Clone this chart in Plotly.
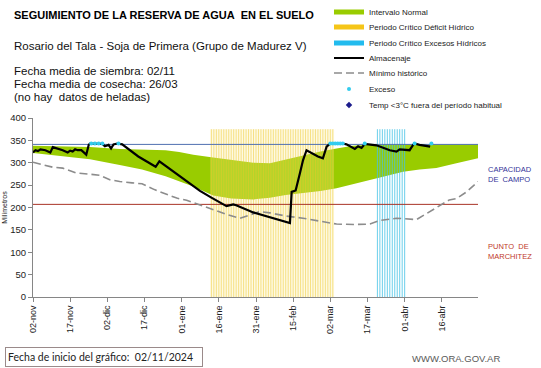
import plotly.graph_objects as go

# ---------------- data (x = days since 02-nov-2024) ----------------
tick_days = [0, 15, 30, 45, 60, 75, 90, 105, 120, 135, 150, 165]
tick_labels = ["02-nov", "17-nov", "02-dic", "17-dic", "01-ene", "16-ene",
               "31-ene", "15-feb", "02-mar", "17-mar", "01-abr", "16-abr"]

capacidad_campo = 341
punto_marchitez = 207

band_days = [0, 10, 23, 35, 44, 53.5, 59, 64.7, 72.7, 80, 88.9, 95.6, 102, 109, 116,
             122.5, 129, 136, 142, 149.4, 156, 162.8, 170, 179.6]
band_upper = [338, 337, 335, 331, 329, 328, 324, 318, 312, 306, 300, 299, 307, 317, 325,
              332, 338, 340, 341, 341, 341, 341, 341, 341]
band_lower = [322, 316, 308, 295, 285, 270, 258, 247, 227, 220, 218, 222, 228, 232, 237,
              243, 252, 261, 271, 280, 285, 288, 298, 310]

min_days = [0, 8, 12, 17.5, 22, 27, 31, 35, 40, 44, 49, 54, 58, 62, 67, 72.7, 78, 83.5,
            87.5, 91.6, 95.6, 102, 109, 116, 122.5, 130, 136, 140, 146.7, 154.8, 160,
            165.5, 168, 171, 175, 179.6]
min_hist = [301, 290, 288, 277, 275, 272, 262, 258, 255, 253, 240, 229, 221, 216, 206, 195,
            185, 176, 184, 191, 188, 181, 176, 169, 163, 162, 163, 171, 176, 173, 190,
            209, 217, 220, 235, 258]

alm_days = [0, 1, 2, 3, 5, 7, 8, 10, 12, 14, 15, 16, 17, 18, 19.5, 21.5, 22.5, 23, 28, 29,
            30.5, 31.5, 32.5, 34, 36, 42.5, 49.5, 51, 56.6, 62, 67.4, 72, 78.1, 80.8, 82,
            88.9, 95.6, 100, 103.7, 104.4, 106, 107.7, 109, 110.4, 115, 117, 118.5, 119.8,
            122, 125, 126.5, 127.9, 129.9, 131.2, 132.6, 133.9, 138.6, 144, 146.7, 148,
            152, 153.4, 154, 156, 160.3]
almacenaje = [323, 328, 326, 330, 328, 323, 335, 332, 328, 323, 327, 325, 330, 328, 328,
              318, 340, 343, 342, 337, 340, 332, 341, 343, 341, 314, 291, 303, 281, 259,
              237, 222, 203, 207, 205, 189, 178, 170, 165, 235, 238, 276, 306, 328, 314,
              310, 336, 342, 343, 343, 341, 337, 331, 337, 333, 342, 339, 328, 325, 330,
              328, 340, 343, 340, 336]

exceso_days = [23.5, 25, 26.5, 28, 34.5, 120, 121, 122, 123, 124, 125, 133.9, 154, 160.8]
exceso_vals = [343] * len(exceso_days)

deficit_days = list(range(72, 122))
excesos_days = list(range(139, 151))
periodo_top = 375

x_max = 179.6

# ---------------- helpers ----------------
W, H = 541, 368
L, R, T, B = 33, 63, 118, 71
PW, PH = W - L - R, H - T - B


def px(x):
    return (x - L) / PW


def py(y):
    return (H - B - y) / PH


FONT = "Arial, Liberation Sans, sans-serif"

fig = go.Figure()

# green band
fig.add_trace(go.Scatter(x=band_days, y=band_lower, mode="lines", line=dict(width=0),
                         showlegend=False, hoverinfo="skip"))
fig.add_trace(go.Scatter(x=band_days, y=band_upper, mode="lines", line=dict(width=0),
                         fill="tonexty", fillcolor="#99CC00", showlegend=False,
                         hoverinfo="skip"))

# deficit period background + stripes
d0, d1 = min(deficit_days) - 0.5, max(deficit_days) + 0.5
fig.add_trace(go.Scatter(x=[d0, d0, d1, d1, d0], y=[0, periodo_top, periodo_top, 0, 0],
                         mode="lines", line=dict(width=0), fill="toself",
                         fillcolor="rgba(250,236,150,0.28)", showlegend=False,
                         hoverinfo="skip"))
sx, sy = [], []
for d in deficit_days:
    sx += [d, d, None]
    sy += [0, periodo_top, None]
fig.add_trace(go.Scatter(x=sx, y=sy, mode="lines",
                         line=dict(color="rgba(240,200,40,0.5)", width=1),
                         showlegend=False, hoverinfo="skip"))
ex, ey = [], []
for d in excesos_days:
    ex += [d, d, None]
    ey += [0, periodo_top, None]
fig.add_trace(go.Scatter(x=ex, y=ey, mode="lines",
                         line=dict(color="rgba(70,195,230,0.8)", width=1),
                         showlegend=False, hoverinfo="skip"))

# reference lines
fig.add_trace(go.Scatter(x=[0, x_max], y=[capacidad_campo] * 2, mode="lines",
                         line=dict(color="#4F6FB0", width=1), showlegend=False))
fig.add_trace(go.Scatter(x=[0, x_max], y=[punto_marchitez] * 2, mode="lines",
                         line=dict(color="#A93226", width=1), showlegend=False))

# minimum historic
fig.add_trace(go.Scatter(x=min_days, y=min_hist, mode="lines", name="Mínimo histórico",
                         line=dict(color="#8C8C8C", width=1.6, dash="8px,4px"),
                         legend="legend5"))
# almacenaje
fig.add_trace(go.Scatter(x=alm_days, y=almacenaje, mode="lines", name="Almacenaje",
                         line=dict(color="#000000", width=2.2), legend="legend4"))
# exceso markers
fig.add_trace(go.Scatter(x=exceso_days, y=exceso_vals, mode="markers", name="Exceso",
                         marker=dict(color="#33CCEE", size=4), legend="legend6"))

# legend proxies
fig.add_trace(go.Scatter(x=[None], y=[None], mode="lines", name="Intervalo Normal",
                         line=dict(color="#99CC00", width=5), legend="legend"))
fig.add_trace(go.Scatter(x=[None], y=[None], mode="lines",
                         name="Periodo Crítico Déficit Hídrico",
                         line=dict(color="#F5C518", width=5), legend="legend2"))
fig.add_trace(go.Scatter(x=[None], y=[None], mode="lines",
                         name="Periodo Crítico Excesos Hídricos",
                         line=dict(color="#22BBEE", width=5), legend="legend3"))
fig.add_trace(go.Scatter(x=[None], y=[None], mode="markers",
                         name="Temp <3°C fuera del período habitual",
                         marker=dict(color="#1C1C8C", size=5, symbol="diamond"),
                         legend="legend7"))

legend_y = [12, 27, 43, 58, 73, 89, 105]
leg = {}
for i, yy in enumerate(legend_y):
    key = "legend" if i == 0 else f"legend{i+1}"
    leg[key] = dict(xref="container", yref="container", x=329 / W, y=1 - yy / H,
                    xanchor="left", yanchor="middle", bgcolor="rgba(0,0,0,0)",
                    font=dict(family=FONT, size=8, color="#222"),
                    itemwidth=30)

ann = [
    dict(x=px(12), y=py(15), text="<b>SEGUIMIENTO DE LA RESERVA DE AGUA\u00a0 EN EL SUELO</b>",
         font=dict(size=11, color="#000")),
    dict(x=px(12), y=py(46), text="Rosario del Tala - Soja de Primera (Grupo de Madurez V)",
         font=dict(size=11.5, color="#111")),
    dict(x=px(12), y=py(71), text="Fecha media de siembra: 02/11", font=dict(size=11.5, color="#111")),
    dict(x=px(12), y=py(84), text="Fecha media de cosecha: 26/03", font=dict(size=11.5, color="#111")),
    dict(x=px(12), y=py(97), text="(no hay\u00a0 datos de heladas)", font=dict(size=11.5, color="#111")),
    dict(x=px(486), y=py(174.5), text="CAPACIDAD<br>DE\u00a0 CAMPO", align="left",
         font=dict(size=7.5, color="#333399")),
    dict(x=px(486), y=py(251), text="PUNTO\u00a0 DE<br>MARCHITEZ", align="left",
         font=dict(size=7.5, color="#C0392B")),
    dict(x=px(410), y=py(358), text="WWW.ORA.GOV.AR", font=dict(size=9.5, color="#595959")),
    dict(x=px(5), y=py(357), text="Fecha de inicio del gráfico:\u00a0 02/11/2024",
         font=dict(size=10.5, color="#222", family="Lato, Arial, sans-serif"),
         bordercolor="#9A8A8A", borderwidth=1, borderpad=2, width=192, height=14,
         align="left", bgcolor="white"),
]
for a in ann:
    a.setdefault("xanchor", "left")
    a.setdefault("yanchor", "middle")
    a["xref"] = "paper"
    a["yref"] = "paper"
    a["showarrow"] = False
    f = a["font"]
    f.setdefault("family", FONT)

fig.update_layout(
    width=W, height=H,
    margin=dict(l=L, r=R, t=T, b=B, autoexpand=False),
    paper_bgcolor="white", plot_bgcolor="white",
    font=dict(family=FONT, color="#222"),
    annotations=ann,
    hovermode=False,
    **leg,
)
fig.update_xaxes(range=[0, x_max], tickmode="array", tickvals=tick_days, ticktext=tick_labels,
                 tickangle=-90, tickfont=dict(size=9, family=FONT, color="#222"),
                 showline=True, linecolor="#868686", linewidth=1, ticks="outside",
                 ticklen=4, tickcolor="#868686", showgrid=False, zeroline=False,
                 automargin=False)
fig.update_yaxes(range=[0, 400], tickvals=list(range(0, 401, 50)),
                 tickfont=dict(size=9.5, family=FONT, color="#222"),
                 showline=True, linecolor="#868686", linewidth=1, ticks="outside",
                 ticklen=4, tickcolor="#868686", showgrid=False, zeroline=False,
                 title=dict(text="Milímetros", font=dict(size=7, family=FONT), standoff=1),
                 automargin=False)

fig.write_html("out.html", config={"displayModeBar": False},
               post_script="document.body.style.margin='0';")
